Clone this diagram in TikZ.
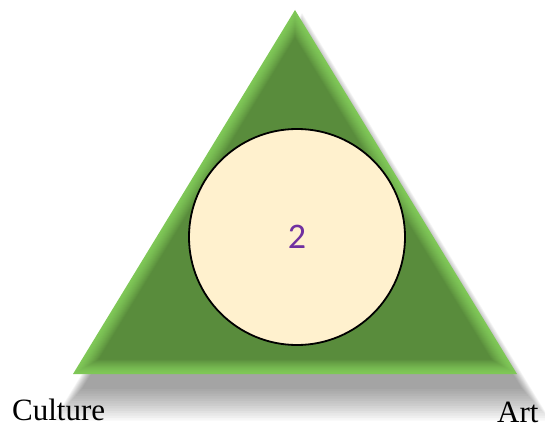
\documentclass[tikz,border=0pt]{standalone}
\usepackage{fontspec}
\usetikzlibrary{calc}
\setmainfont{Liberation Serif}
\newfontfamily\digitfont{Carlito}
\definecolor{lightg}{HTML}{80C858}
\definecolor{darkg}{HTML}{598C3C}
\definecolor{cream}{HTML}{FFF1CE}
\definecolor{purp}{HTML}{7030A0}
\begin{document}
\begin{tikzpicture}[x=1pt,y=-1pt,
  lbl/.style={font=\fontsize{31}{32}\selectfont, inner sep=0pt, anchor=base west},
  disc/.style={circle, draw=black, line width=1.8pt, fill=cream, minimum size=216pt, inner sep=0pt}]
\useasboundingbox (0,0) rectangle (545,430);
\coordinate (A) at (295,10);
\coordinate (B) at (73,374);
\coordinate (C) at (517,374);
\coordinate (I) at (295,249.4);
% shadow
\foreach \k in {0,...,13}{
  \fill[black, opacity=0.03]
    ([shift={(7,{16+1.2*\k})}]$(I)!{0.99+0.01*\k}!(A)$) --
    ([shift={(7,{16+1.2*\k})}]$(I)!{0.99+0.01*\k}!(B)$) --
    ([shift={(7,{16+1.2*\k})}]$(I)!{0.99+0.01*\k}!(C)$) -- cycle;
}
% bevelled triangle
\foreach \k in {0,...,16}{
  \pgfmathsetmacro{\f}{1-0.0072*\k}
  \pgfmathsetmacro{\m}{100*(\k/16)^1.4}
  \fill[darkg!\m!lightg] ($(I)!\f!(A)$) -- ($(I)!\f!(B)$) -- ($(I)!\f!(C)$) -- cycle;
}
\node[disc] (c) at (297,237) {};
\node[text=purp, font=\digitfont\fontsize{36}{38}\selectfont] (n) at (c.center) {2};
\node[lbl] (cul) at (12,420) {Culture};
\node[lbl] (art) at (497,422) {Art};
\end{tikzpicture}
\end{document}
